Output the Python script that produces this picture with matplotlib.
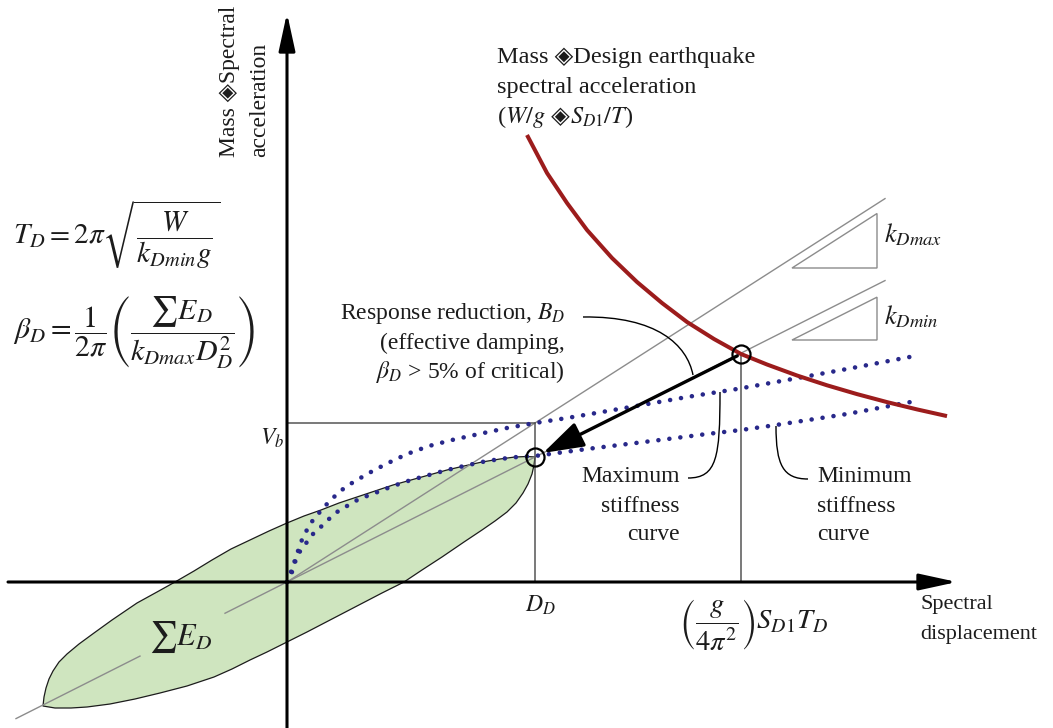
import matplotlib
matplotlib.use("Agg")
import matplotlib.pyplot as plt
from matplotlib.patches import Polygon, FancyArrowPatch, PathPatch
from matplotlib.path import Path

plt.rcParams['font.family'] = ['Liberation Serif', 'DejaVu Sans']
plt.rcParams['mathtext.fontset'] = 'stix'

# ---- design values (schematic displacement / force units) ----
D_D = 248          # design displacement
V_b = 159          # base shear on the maximum stiffness curve
F_D = 125          # force at D_D on the minimum stiffness curve
D_M = 454          # spectral displacement (g/4pi^2) S_D1 T_D
F_M = 228          # force at the demand point
k_Dmax = V_b / D_D
k_Dmin = F_D / D_D

# hysteresis loop: loading branch (negative tip -> positive tip)
loop_up_disp = [-244, -243, -241, -238, -234, -228, -220, -208, -193, -175, -150, -130, -112,
                -93, -75, -56, -37, -18, 0, 17, 34, 52, 70, 88, 106, 124, 142, 160, 177, 195,
                213, 228, 240, 248]
loop_up_force = [-124, -115, -106, -97, -89, -80, -72, -62, -51, -38, -21, -10, 0,
                 11, 22, 33, 42, 51, 59, 66, 72, 79, 85, 91, 97, 102, 107, 112, 116, 120,
                 123, 125, 125.5, 125]
# unloading branch (positive tip -> negative tip)
loop_dn_disp = [248, 247, 245, 241, 236, 229, 220, 208, 195, 177, 155, 135, 117, 95, 70, 45,
                20, 0, -20, -37, -55, -73, -100, -127, -152, -177, -200, -216, -232, -244]
loop_dn_force = [125, 117, 108, 98, 89, 79, 70, 61, 52, 40, 25, 12, 0, -11, -24, -37,
                 -50, -60, -70, -78, -87, -95, -104, -111, -117, -122, -125, -126, -126, -124]

# maximum / minimum stiffness curves
max_disp = [0, 3, 5, 7, 10, 13, 16, 21, 26, 32, 38, 45, 51, 60, 70, 82, 99, 120, 142, 165,
            192, 220, 248, 280, 315, 355, 400, 450, 500, 560, 633]
max_force = [0, 6, 10, 19, 28, 37, 45, 54, 62, 69, 76, 83, 89, 96, 102, 109, 118, 128, 136, 142,
             148, 154, 159, 164, 170, 177, 185, 193, 202, 213, 227]
min_disp = [0, 3, 7, 11, 18, 23, 29, 36, 42, 50, 60, 72, 88, 106, 124, 142, 160, 177, 195,
            213, 230, 248, 300, 365, 420, 454, 489, 560, 629]
min_force = [0, 8, 17, 28, 37, 45, 51, 57, 63, 70, 76, 83, 89, 96, 102, 107, 112, 116, 120,
             123, 125, 126, 133, 141, 148, 152, 157, 168, 181]

# mass x design earthquake spectral acceleration (W/g x S_D1/T)
demand_disp = [240, 260, 280, 300, 325, 350, 375, 400, 427, 454, 480, 510, 540, 570, 600, 630, 660]
demand_force = [447, 409, 379, 352, 324, 300, 279, 260, 243, 228, 217.5, 206.5, 196.7, 187.9,
                179.9, 172.6, 165.9]

INK = '#1c1c1c'
GRAY = '#8c8c8c'
REF = '#555555'
NAVY = '#28288a'
RED = '#9c1c1c'
GREEN = '#cfe5bf'
FS = 17

fig = plt.figure(figsize=(10.53, 7.28), dpi=100)
ax = fig.add_axes([0, 0, 1, 1])
ax.set_xlim(-287, 766)
ax.set_ylim(-146, 582)
ax.axis('off')

# hysteresis loop
loop_pts = list(zip(loop_up_disp, loop_up_force)) + list(zip(loop_dn_disp, loop_dn_force))
ax.add_patch(Polygon(loop_pts, closed=True, facecolor=GREEN, edgecolor=INK, lw=0.9,
                     joinstyle='round', zorder=1))

# stiffness lines through the origin
x_end = 598
ax.plot([0, x_end], [0, k_Dmax * x_end], color=GRAY, lw=1.0, zorder=2)
for xa, xb in [(-271, -147), (-62, x_end)]:
    ax.plot([xa, xb], [k_Dmin * xa, k_Dmin * xb], color=GRAY, lw=1.0, zorder=2)

# slope triangles
tri_x0, tri_w = 505, 85
for base, k in [(314, k_Dmax), (242, k_Dmin)]:
    ax.add_patch(Polygon([(tri_x0, base), (tri_x0 + tri_w, base + k * tri_w), (tri_x0 + tri_w, base)],
                         closed=True, fill=False, edgecolor=GRAY, lw=1.0, zorder=2))

# reference lines
ax.plot([0, D_D], [V_b, V_b], color=REF, lw=1.1, zorder=2)
ax.plot([D_D, D_D], [0, V_b], color=REF, lw=1.1, zorder=2)
ax.plot([D_M, D_M], [0, F_M], color=REF, lw=1.1, zorder=2)

# stiffness curves (dotted)
for xs, ys in [(max_disp, max_force), (min_disp, min_force)]:
    ax.plot(xs, ys, color=NAVY, lw=3.3, linestyle=(0, (0.01, 2.4)),
            dash_capstyle='round', zorder=3)

# demand curve
ax.plot(demand_disp, demand_force, color=RED, lw=2.9, zorder=3,
        solid_capstyle='butt', solid_joinstyle='round')

# axes with arrows
axis_style = '-|>,head_length=1.15,head_width=0.25'
ax.add_patch(FancyArrowPatch((-279, 0), (670, 0), arrowstyle=axis_style, mutation_scale=20,
                             lw=2.2, color='black', shrinkA=0, shrinkB=0, zorder=4))
ax.add_patch(FancyArrowPatch((0, -150), (0, 569), arrowstyle=axis_style, mutation_scale=20,
                             lw=2.2, color='black', shrinkA=0, shrinkB=0, zorder=4))

# response reduction arrow
ax.add_patch(FancyArrowPatch((D_M, F_M), (D_D, F_D),
                             arrowstyle='-|>,head_length=1.25,head_width=0.4', mutation_scale=20,
                             lw=2.4, color='black', shrinkA=3, shrinkB=6.5, zorder=5))

# design points
ax.plot([D_D, D_M], [F_D, F_M], linestyle='none', marker='o', markersize=13,
        markerfacecolor='none', markeredgecolor='black', markeredgewidth=1.6, zorder=6)

# leader curves
def leader(p0, p1, p2, p3):
    path = Path([p0, p1, p2, p3], [Path.MOVETO, Path.CURVE4, Path.CURVE4, Path.CURVE4])
    ax.add_patch(PathPatch(path, fill=False, edgecolor='black', lw=1.0, zorder=5))

leader((296, 265), (370, 266), (400, 237), (406, 207))
leader((401, 104), (430, 104), (433, 125), (433, 190))
leader((521, 103), (496, 103), (489, 117), (489, 156))

# texts
def t(x, y, s, **kw):
    kw.setdefault('fontsize', FS)
    kw.setdefault('color', INK)
    return ax.text(x, y, s, zorder=7, **kw)

t(-57, 425, 'Mass \u25c8Spectral', rotation=90, ha='center', va='bottom')
t(-27, 425, 'acceleration', rotation=90, ha='center', va='bottom')

FS_TOP = 17.5
t(210, 524, 'Mass \u25c8Design earthquake', ha='left', va='center', fontsize=FS_TOP)
t(210, 495, 'spectral acceleration', ha='left', va='center', fontsize=FS_TOP)

# third line of the demand label, set piece by piece on a common baseline
fig.canvas.draw()
renderer = fig.canvas.get_renderer()
x_cur = 210
for piece in ['($W/g$', ' \u25c8', '$S_{D1}/T$)']:
    txt = t(x_cur, 459, piece, ha='left', va='baseline', fontsize=FS_TOP)
    bb = txt.get_window_extent(renderer=renderer)
    x_cur = ax.transData.inverted().transform((bb.x1, bb.y0))[0]

t(278, 269, 'Response reduction, $B_D$', ha='right', va='center')
t(278, 239, '(effective damping,', ha='right', va='center')
t(278, 210, r'$\beta_D$ > 5% of critical)', ha='right', va='center')

for yy, s in [(105, 'Maximum'), (76, 'stiffness'), (47, 'curve')]:
    t(393, yy, s, ha='right', va='center')
for yy, s in [(105, 'Minimum'), (76, 'stiffness'), (47, 'curve')]:
    t(530, yy, s, ha='left', va='center')

t(597, 347, '$k_{Dmax}$', ha='left', va='center', fontsize=FS + 2)
t(597, 265, '$k_{Dmin}$', ha='left', va='center', fontsize=FS + 2)

t(-15, 144, '$V_b$', ha='center', va='center')
t(253, -23, '$D_D$', ha='center', va='center')
t(467, -43, r'$\left(\dfrac{g}{4\pi^2}\right)S_{D1}T_D$', ha='center', va='center', fontsize=20.5)
t(633, -23, 'Spectral', ha='left', va='center', fontsize=FS - 1)
t(633, -53, 'displacement', ha='left', va='center', fontsize=FS - 1)
t(-106, -55, r'$\sum E_D$', ha='center', va='center', fontsize=22)

t(-274, 347, r'$T_D = 2\pi\sqrt{\dfrac{W}{k_{Dmin}g}}$', ha='left', va='center', fontsize=21)
t(-274, 249, r'$\beta_D = \dfrac{1}{2\pi}\left(\dfrac{\sum E_D}{k_{Dmax}D_D^2}\right)$',
  ha='left', va='center', fontsize=21.5)

fig.savefig('out.png', dpi=100, facecolor='white')
